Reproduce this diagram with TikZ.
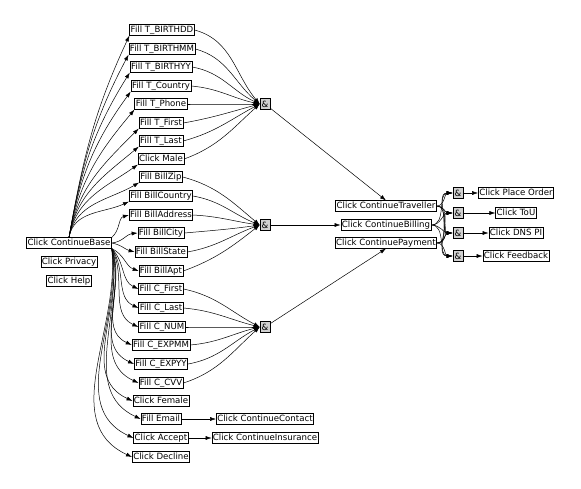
\documentclass[tikz,border=0pt]{standalone}
\usepackage{fontspec}
\setmainfont{DejaVu Sans}
\usetikzlibrary{arrows.meta}

\tikzset{
  act/.style={draw, fill=white, line width=0.6pt, inner xsep=1pt, inner ysep=1pt,
    text height=6.6pt, text depth=1.9pt, font=\fontsize{8.6}{9}\selectfont},
  conj/.style={draw, fill=black!18, line width=0.6pt, inner sep=0pt,
    minimum width=10pt, minimum height=11pt, font=\fontsize{8.6}{9}\selectfont},
  edge/.style={-{Latex[length=6pt,width=4pt]}, line width=0.5pt},
}

\begin{document}
\begin{tikzpicture}[x=1pt, y=-1pt]
    \useasboundingbox (0,0) rectangle (581,488);
    % Start
    \node[act] (base) at (69,243) {Click ContinueBase};
    \node[act] (privacy) at (69,262) {Click Privacy};
    \node[act] (help) at (69,281) {Click Help};
    % Traveller
    \node[act] (tdd) at (162,30) {Fill T\_BIRTHDD};
    \node[act] (tmm) at (162,49) {Fill T\_BIRTHMM};
    \node[act] (tyy) at (161,67) {Fill T\_BIRTHYY};
    \node[act] (tcountry) at (161,86) {Fill T\_Country};
    \node[act] (tphone) at (161,104) {Fill T\_Phone};
    \node[act] (tfirst) at (161,123) {Fill T\_First};
    \node[act] (tlast) at (161,141) {Fill T\_Last};
    \node[act] (male) at (161,159) {Click Male};
    % Billing
    \node[act] (bzip) at (161,177) {Fill BillZip};
    \node[act] (bcountry) at (161,196) {Fill BillCountry};
    \node[act] (baddr) at (161,215) {Fill BillAddress};
    \node[act] (bcity) at (161,233) {Fill BillCity};
    \node[act] (bstate) at (161,252) {Fill BillState};
    \node[act] (bapt) at (161,271) {Fill BillApt};
    % Payment
    \node[act] (cfirst) at (161,289) {Fill C\_First};
    \node[act] (clast) at (161,308) {Fill C\_Last};
    \node[act] (cnum) at (162,327) {Fill C\_NUM};
    \node[act] (cexpmm) at (161,345) {Fill C\_EXPMM};
    \node[act] (cexpyy) at (161,364) {Fill C\_EXPYY};
    \node[act] (ccvv) at (161,383) {Fill C\_CVV};
    % Others
    \node[act] (female) at (161,401) {Click Female};
    \node[act] (email) at (161,419) {Fill Email};
    \node[act] (accept) at (161,438) {Click Accept};
    \node[act] (decline) at (161,457) {Click Decline};
    \node[act] (contact) at (265,419) {Click ContinueContact};
    \node[act] (insurance) at (265,438) {Click ContinueInsurance};
    % Joins
    \node[conj] (and1) at (265,104) {\&};
    \node[conj] (and2) at (265,225) {\&};
    \node[conj] (and3) at (265,327) {\&};
    \node[act] (trav) at (386,206) {Click ContinueTraveller};
    \node[act] (bill) at (386,225) {Click ContinueBilling};
    \node[act] (pay) at (386,243) {Click ContinuePayment};
    \node[conj] (a1) at (458,193) {\&};
    \node[conj] (a2) at (458,213) {\&};
    \node[conj] (a3) at (458,233) {\&};
    \node[conj] (a4) at (458,256) {\&};
    \node[act] (order) at (516,193) {Click Place Order};
    \node[act] (tou) at (516,213) {Click ToU};
    \node[act] (dns) at (516,233) {Click DNS PI};
    \node[act] (feedback) at (516,256) {Click Feedback};

    % Edges out of ContinueBase
    \foreach \n/\a in {tdd/245, tmm/242, tyy/238, tcountry/234, tphone/230, tfirst/225,
                       tlast/220, male/215, bzip/210, bcountry/205}
        \draw[edge] (base.north) to[out=80, in=\a] (\n.south west);
    \draw[edge] (base.north east) to[out=40, in=195] (baddr.west);
    \draw[edge] (base.east) to[out=5, in=185] (bcity.west);
    \draw[edge] (base.east) to[out=-10, in=165] (bstate.west);
    \draw[edge] (base.south east) to[out=-25, in=160] (bapt.west);
    \foreach \n/\o in {cfirst/-45, clast/-55, cnum/-62, cexpmm/-68, cexpyy/-72, ccvv/-75,
                       female/-78, email/-80, accept/-82, decline/-84}
        \draw[edge] (base.south east) to[out=\o, in=155] (\n.west);
    % Into the joins
    \foreach \n/\o/\i in {tdd/-15/130, tmm/-15/140, tyy/-10/155, tcountry/-5/168,
                          tphone/0/180, tfirst/10/195, tlast/15/208, male/20/222}
        \draw[edge] (\n.east) to[out=\o, in=\i] (and1.west);
    \foreach \n/\o/\i in {bzip/-15/140, bcountry/-10/158, baddr/-3/172,
                          bcity/5/188, bstate/10/200, bapt/20/218}
        \draw[edge] (\n.east) to[out=\o, in=\i] (and2.west);
    \foreach \n/\o/\i in {cfirst/-12/152, clast/-5/166, cnum/0/180,
                          cexpmm/5/194, cexpyy/10/208, ccvv/18/222}
        \draw[edge] (\n.east) to[out=\o, in=\i] (and3.west);
    \draw[edge] (and1) -- (trav.north);
    \draw[edge] (and2) -- (bill.west);
    \draw[edge] (and3) -- (pay.south);
    \draw[edge] (email) -- (contact);
    \draw[edge] (accept) -- (insurance);
    % Last step
    \foreach \s in {trav, bill, pay}
        \foreach \t in {a1, a2, a3, a4}
            \draw[edge] (\s.east) to[out=0, in=180] (\t.west);
    \draw[edge] (a1) -- (order);
    \draw[edge] (a2) -- (tou);
    \draw[edge] (a3) -- (dns);
    \draw[edge] (a4) -- (feedback);
\end{tikzpicture}
\end{document}
